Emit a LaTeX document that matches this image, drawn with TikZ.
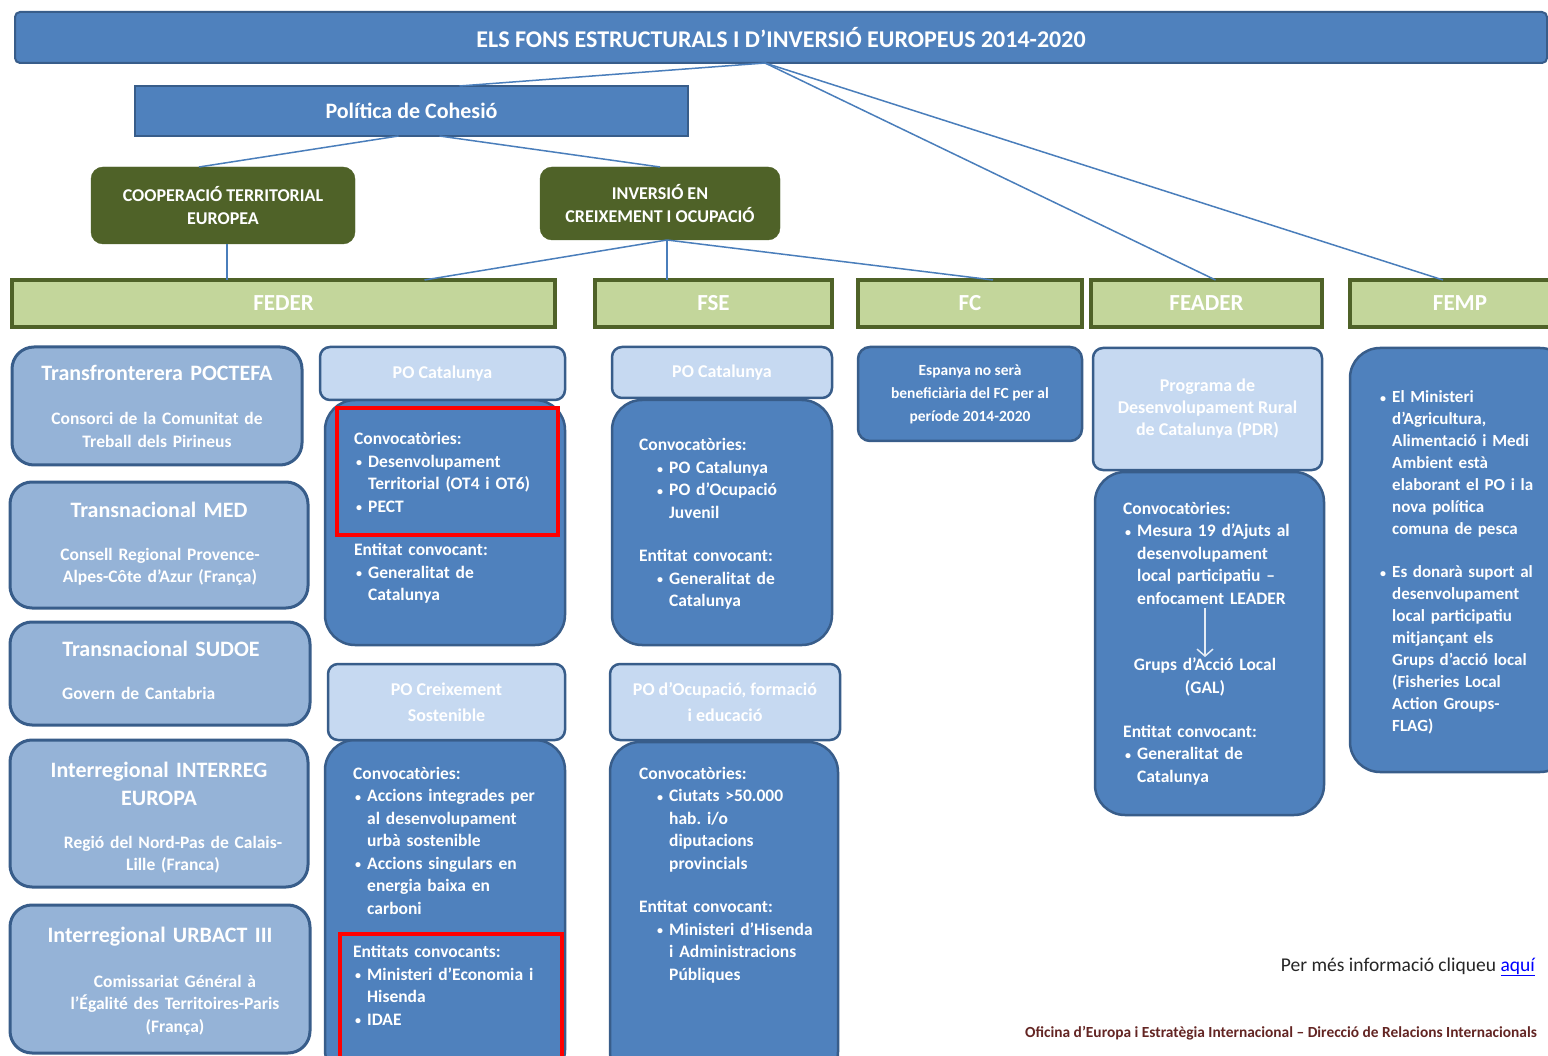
\documentclass[tikz,border=0pt]{standalone}
\usepackage{fontspec}
\setmainfont{Carlito}
\usetikzlibrary{arrows.meta}

\definecolor{fonsblue}{HTML}{4F81BD}
\definecolor{fonsedge}{HTML}{385D8A}
\definecolor{paleblue}{HTML}{C6D9F1}
\definecolor{midblue}{HTML}{95B3D7}
\definecolor{olive}{HTML}{4F6228}
\definecolor{leaf}{HTML}{C3D69B}
\definecolor{linkblue}{HTML}{4A7EBB}
\definecolor{footred}{HTML}{632523}

% bullet line with hanging indent, optional left offset
\newcommand\bitem[2][0pt]{\par\hangindent=\dimexpr#1+14pt\relax\hangafter=1
  \noindent\hspace*{#1}\makebox[14pt][l]{\hspace{2pt}\raisebox{0.5pt}{\fontsize{12}{12}\selectfont\textbullet}}#2\par}
\newcommand\grpgap{\par\vspace{21pt}}

\begin{document}
\frenchspacing
\begin{tikzpicture}[x=1pt,y=-1pt,
  fonsbox/.style={anchor=north west, inner sep=0pt, outer sep=0pt, text=white, align=center},
  bluebar/.style={fonsbox, fill=fonsblue, draw=fonsedge, line width=2pt},
  prog/.style={fonsbox, fill=olive, draw=olive, rounded corners=12pt, font=\fontsize{18}{23}\selectfont\bfseries},
  fund/.style={fonsbox, fill=leaf, draw=olive, line width=4pt, font=\fontsize{23}{26}\selectfont\bfseries},
  ctbox/.style={fonsbox, fill=midblue, draw=fonsedge, line width=3pt, rounded corners=22pt},
  pohead/.style={fonsbox, fill=paleblue, draw=fonsedge, line width=2.5pt, rounded corners=10pt, font=\fontsize{18}{26}\selectfont\bfseries},
  pobody/.style={fonsbox, fill=fonsblue, draw=fonsedge, line width=2.5pt, rounded corners=30pt},
  cttitle/.style={anchor=base, inner sep=0pt, text=white, text width=300pt, align=center, font=\fontsize{22}{28}\selectfont\bfseries},
  ctsub/.style={anchor=base, inner sep=0pt, text=white, text width=300pt, align=center, font=\fontsize{17.5}{22.5}\selectfont\bfseries},
  bodytext/.style={anchor=base west, inner sep=0pt, text=white, text width=#1, align=left, font=\fontsize{17.5}{22.5}\selectfont\bfseries},
  link/.style={draw=linkblue, line width=1.5pt},
  redframe/.style={draw=red, line width=4pt}
]
\fill[white] (0,0) rectangle (1548,1056);
\useasboundingbox (0,0) rectangle (1548,1056);

% top of the tree
\node[bluebar, rounded corners=5pt, minimum width=1532, minimum height=51, font=\fontsize{24}{28}\selectfont\bfseries] (fons) at (15,12) {ELS FONS ESTRUCTURALS I D’INVERSIÓ EUROPEUS 2014-2020};
\node[bluebar, minimum width=553, minimum height=50, font=\fontsize{22}{26}\selectfont\bfseries] (cohesio) at (135,86) {Política de Cohesió};
\node[prog, minimum width=264, minimum height=77] (cte) at (91,167) {COOPERACIÓ TERRITORIAL\\EUROPEA};
\node[prog, minimum width=240, minimum height=73] (ico) at (540,167) {INVERSIÓ EN\\CREIXEMENT I OCUPACIÓ};

% funds
\node[fund, minimum width=543, minimum height=47] (feder) at (12,280) {FEDER};
\node[fund, minimum width=237, minimum height=47] (fse) at (595,280) {FSE};
\node[fund, minimum width=224, minimum height=47] (fc) at (858,280) {FC};
\node[fund, minimum width=231, minimum height=47] (feader) at (1091,280) {FEADER};
\node[fund, minimum width=220, minimum height=47] (femp) at (1350,280) {FEMP};

% connectors
\coordinate (hub) at ([xshift=-16]fons.south);
\draw[link] (hub) -- ([xshift=48]cohesio.north);
\draw[link] ([xshift=-13]cohesio.south) -- ([xshift=-24]cte.north);
\draw[link] ([xshift=28]cohesio.south) -- (ico.north);
\draw[link] ([xshift=4]cte.south) -- ([xshift=4]cte.south |- feder.north);
\draw[link] ([xshift=7]ico.south) -- ([xshift=141]feder.north);
\draw[link] ([xshift=7]ico.south) -- ([xshift=7]ico.south |- fse.north);
\draw[link] ([xshift=7]ico.south) -- ([xshift=23]fc.north);
\draw[link] (hub) -- ([xshift=9]feader.north);
\draw[link] (hub) -- ([xshift=-17]femp.north);

% cooperacio territorial
\node[ctbox, minimum width=290, minimum height=118] (poctefa) at (12,347) {};
\node[cttitle] (poctefa-t) at (157,381) {Transfronterera POCTEFA};
\node[ctsub] (poctefa-s) at (157,425) {Consorci de la Comunitat de\\Treball dels Pirineus};
\node[ctbox, minimum width=298, minimum height=126] (med) at (10,482) {};
\node[cttitle] (med-t) at (159,517) {Transnacional MED};
\node[ctsub] (med-s) at (160,560) {Consell Regional Provence-\\Alpes-Côte d’Azur (França)};
\node[ctbox, minimum width=300, minimum height=103] (sudoe) at (10,622) {};
\node[cttitle] (sudoe-t) at (161,656) {Transnacional SUDOE};
\node[ctsub, anchor=base west, align=left] (sudoe-s) at (62,699) {Govern de Cantabria};
\node[ctbox, minimum width=298, minimum height=147] (interreg) at (10,740) {};
\node[cttitle] (interreg-t) at (159,777) {Interregional INTERREG\\EUROPA};
\node[ctsub] (interreg-s) at (173,848) {Regió del Nord-Pas de Calais-\\Lille (Franca)};
\node[ctbox, minimum width=300, minimum height=148] (urbact) at (10,905) {};
\node[cttitle] (urbact-t) at (160,942) {Interregional URBACT III};
\node[ctsub] (urbact-s) at (175,987) {Comissariat Général à\\l’Égalité des Territoires-Paris\\(França)};

% FEDER programmes
\node[pobody, minimum width=240, minimum height=245] (fdcat) at (325,400) {};
\node[pohead, minimum width=245, minimum height=53] (fdcat-h) at (320,347) {PO Catalunya};
\node[bodytext=205pt] (fdcat-t) at (354,445) {Convocatòries:
  \bitem{Desenvolupament\newline Territorial (OT4 i OT6)}
  \bitem{PECT}\grpgap
  Entitat convocant:
  \bitem{Generalitat de\newline Catalunya}};
\node[pobody, minimum width=240, minimum height=340] (creix) at (325,740) {};
\node[pohead, minimum width=237, minimum height=76] (creix-h) at (328,664) {PO Creixement\\Sostenible};
\node[bodytext=205pt] (creix-t) at (353,779) {Convocatòries:
  \bitem{Accions integrades per\newline al desenvolupament\newline urbà sostenible}
  \bitem{Accions singulars en\newline energia baixa en\newline carboni}\grpgap
  Entitats convocants:
  \bitem{Ministeri d’Economia i\newline Hisenda}
  \bitem{IDAE}};
\draw[redframe] (337,408) rectangle (558,535);
\draw[redframe] (340,934) rectangle (562,1075);

% FSE programmes
\node[pobody, minimum width=220, minimum height=245] (fscat) at (612,400) {};
\node[pohead, minimum width=220, minimum height=51] (fscat-h) at (612,347) {PO Catalunya};
\node[bodytext=190pt] (fscat-t) at (639,451) {Convocatòries:
  \bitem[16pt]{PO Catalunya}
  \bitem[16pt]{PO d’Ocupació\newline Juvenil}\grpgap
  Entitat convocant:
  \bitem[16pt]{Generalitat de\newline Catalunya}};
\node[pobody, minimum width=228, minimum height=340] (ocup) at (610,742) {};
\node[pohead, minimum width=230, minimum height=76] (ocup-h) at (610,664) {PO d’Ocupació, formació\\i educació};
\node[bodytext=195pt] (ocup-t) at (639,779) {Convocatòries:
  \bitem[16pt]{Ciutats >50.000\newline hab. i/o\newline diputacions\newline provincials}\grpgap
  Entitat convocant:
  \bitem[16pt]{Ministeri d’Hisenda\newline i Administracions\newline Públiques}};

% FC
\node[fonsbox, fill=fonsblue, draw=fonsedge, line width=2.5pt, rounded corners=12pt, minimum width=224, minimum height=94, font=\fontsize{15.5}{23}\selectfont\bfseries] (fcnote) at (858,347) {Espanya no serà\\beneficiària del FC per al\\període 2014-2020};

% FEADER
\node[pobody, minimum width=229, minimum height=343] (pdr) at (1095,472) {};
\node[pohead, minimum width=229, minimum height=122, font=\fontsize{18}{22}\selectfont\bfseries] (pdr-h) at (1093,348) {Programa de\\Desenvolupament Rural\\de Catalunya (PDR)};
\node[bodytext=195pt] (pdr-t) at (1123,514) {Convocatòries:
  \bitem{Mesura 19 d’Ajuts al\newline desenvolupament\newline local participatiu –\newline enfocament LEADER}};
\coordinate (leader) at (1205,608);
\node[cttitle, font=\fontsize{17.5}{23}\selectfont\bfseries] (gal) at (1205,670) {Grups d’Acció Local\\(GAL)};
\draw[white!85!fonsblue, line width=1.5pt, -{Straight Barb[length=7pt,width=16pt]}] (leader) -- (gal.north);
\node[bodytext=195pt] (pdr-e) at (1123,737) {Entitat convocant:
  \bitem{Generalitat de\newline Catalunya}};

% FEMP
\node[pobody, minimum width=220, minimum height=424] (fempbox) at (1350,348) {};
\node[bodytext=175pt, font=\fontsize{17}{22}\selectfont\bfseries] (femp-t) at (1378,381) {%
  \bitem{El Ministeri\newline d’Agricultura,\newline Alimentació i Medi\newline Ambient està\newline elaborant el PO i la\newline nova política\newline comuna de pesca}\grpgap
  \bitem{Es donarà suport al\newline desenvolupament\newline local participatiu\newline mitjançant els\newline Grups d’acció local\newline (Fisheries Local\newline Action Groups-\newline FLAG)}};

% footer
\node[anchor=base east, inner sep=0pt, text=black!85, font=\fontsize{19.5}{22}\selectfont] (more) at (1535,971) {Per més informació cliqueu \textcolor{blue}{\underline{aquí}}};
\node[anchor=base west, inner sep=0pt, text=footred, font=\fontsize{15.4}{18}\selectfont\bfseries] (office) at (1025,1037) {Oficina d’Europa i Estratègia Internacional – Direcció de Relacions Internacionals};
\end{tikzpicture}
\end{document}
